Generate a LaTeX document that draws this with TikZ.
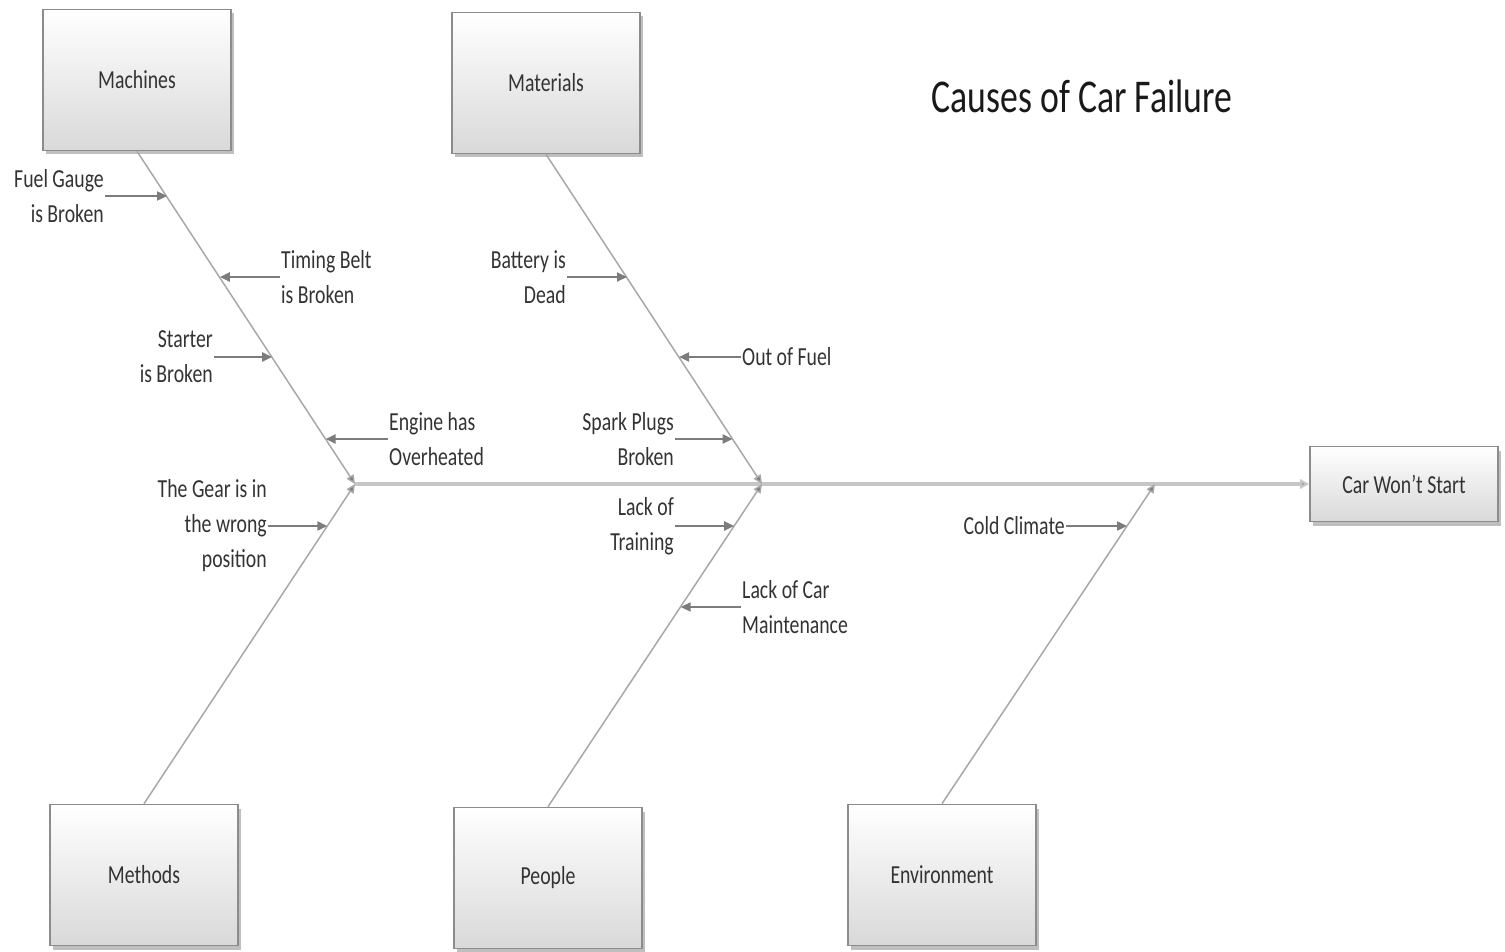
\documentclass[tikz,border=0pt]{standalone}
\usepackage{fontspec}
\setmainfont[FakeStretch=0.76]{Carlito}
\usetikzlibrary{arrows.meta, shadows}
\definecolor{ink}{HTML}{333333}
\definecolor{rim}{HTML}{8C8C8C}
\definecolor{bone}{HTML}{A8A8A8}
\definecolor{spinec}{HTML}{C6C6C6}
\definecolor{tick}{HTML}{7C7C7C}
\tikzset{
  every node/.style = {text=ink},
  fbbox/.style    = {draw=rim, line width=1.6pt, top color=white, bottom color=black!15,
                     minimum width=188pt, minimum height=141pt, inner sep=0pt,
                     font=\fontsize{26}{35}\selectfont,
                     drop shadow={shadow xshift=3pt, shadow yshift=-4pt, fill=black!50}},
  fbhead/.style   = {fbbox, minimum height=75pt},
  fbbone/.style   = {draw=bone, line width=1.5pt, -{Triangle[length=9pt,width=8pt,fill=tick]}},
  fbspine/.style  = {draw=spinec, line width=4pt, -{Triangle[length=9pt,width=9pt,fill=tick]}},
  fbtick/.style   = {draw=tick, line width=2pt, -{Triangle[length=10pt,width=9pt]}},
  fbcause/.style  = {font=\fontsize{26}{35}\selectfont, inner sep=1pt},
  fbleft/.style   = {fbcause, anchor=east, align=right},
  fbright/.style  = {fbcause, anchor=west, align=left},
  fbtitle/.style  = {font=\fontsize{47}{56}\selectfont, text=black!90},
}

\begin{document}
\begin{tikzpicture}[x=1pt, y=-1pt]
\useasboundingbox (0,0) rectangle (1505,952);

\node[fbtitle] (title) at (1082,96) {Causes of Car Failure};

% category boxes and the effect
\node[fbbox] (mach) at (137,80)  {Machines};
\node[fbbox] (matl) at (546,83)  {Materials};
\node[fbbox] (meth) at (144,875) {Methods};
\node[fbbox] (peop) at (548,878) {People};
\node[fbbox] (envi) at (942,875) {Environment};
\node[fbhead] (car) at (1404,484) {Car Won’t Start};

% where the bones meet the spine
\coordinate (hm) at (355,484);
\coordinate (hp) at (762,484);
\coordinate (he) at (1155,484);

\draw[fbspine] (hm) -- (car.west);
\draw[fbbone] (mach.south) -- (hm);
\draw[fbbone] (meth.north) -- (hm);
\draw[fbbone] (matl.south) -- (hp);
\draw[fbbone] (peop.north) -- (hp);
\draw[fbbone] (envi.north) -- (he);

% points on the bones
\path (mach.south) -- (hm) coordinate[pos=.138] (fgx) coordinate[pos=.380] (tbx)
                           coordinate[pos=.620] (stx) coordinate[pos=.865] (eox);
\path (matl.south) -- (hp) coordinate[pos=.375] (bdx) coordinate[pos=.616] (ofx)
                           coordinate[pos=.864] (spx);
\path (meth.north) -- (hm) coordinate[pos=.869] (gwx);
\path (peop.north) -- (hp) coordinate[pos=.870] (ltx) coordinate[pos=.620] (lmx);
\path (envi.north) -- (he) coordinate[pos=.869] (ccx);

% causes
\node[fbleft]  (fg) at (105,196)  {Fuel Gauge\\is Broken};
\node[fbright] (tb) at (280,277)  {Timing Belt\\is Broken};
\node[fbleft]  (st) at (214,357)  {Starter\\is Broken};
\node[fbright] (eo) at (388,439)  {Engine has\\Overheated};
\node[fbleft]  (gw) at (268,526)  {The Gear is in\\the wrong\\position};
\node[fbleft]  (bd) at (567,277)  {Battery is\\Dead};
\node[fbright] (of) at (741,357)  {Out of Fuel};
\node[fbleft]  (sp) at (675,439)  {Spark Plugs\\Broken};
\node[fbleft]  (lt) at (675,526)  {Lack of\\Training};
\node[fbright] (lm) at (741,607)  {Lack of Car\\Maintenance};
\node[fbleft]  (cc) at (1066,526) {Cold Climate};

\draw[fbtick] (fg.east) -- (fg.east -| fgx);
\draw[fbtick] (tb.west) -- (tb.west -| tbx);
\draw[fbtick] (st.east) -- (st.east -| stx);
\draw[fbtick] (eo.west) -- (eo.west -| eox);
\draw[fbtick] (gw.east) -- (gw.east -| gwx);
\draw[fbtick] (bd.east) -- (bd.east -| bdx);
\draw[fbtick] (of.west) -- (of.west -| ofx);
\draw[fbtick] (sp.east) -- (sp.east -| spx);
\draw[fbtick] (lt.east) -- (lt.east -| ltx);
\draw[fbtick] (lm.west) -- (lm.west -| lmx);
\draw[fbtick] (cc.east) -- (cc.east -| ccx);
\end{tikzpicture}
\end{document}
